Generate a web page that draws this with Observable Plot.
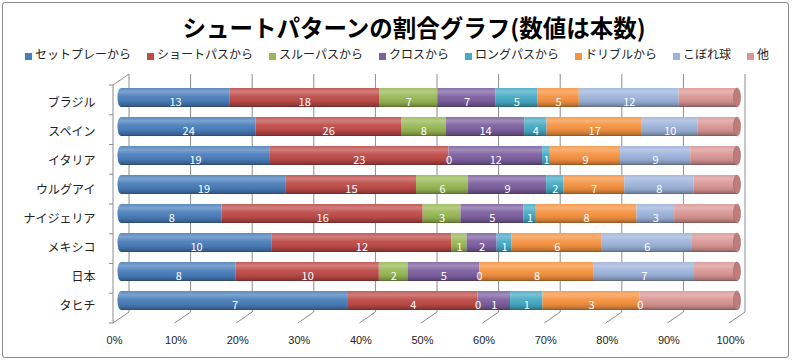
<!DOCTYPE html>
<html><head><meta charset="utf-8">
<script src="https://cdn.jsdelivr.net/npm/d3@7"></script>
<script src="https://cdn.jsdelivr.net/npm/@observablehq/plot@0.6"></script>
<style>
body{margin:0;width:794px;height:362px;position:relative;overflow:hidden;background:#fff;font-family:"Noto Sans CJK JP",sans-serif;}
#border{position:absolute;left:2px;top:2px;width:785px;height:354px;border:1px solid #8a8a8a;border-radius:3px;}
#title{position:absolute;left:0;top:12px;width:794px;padding-left:34px;box-sizing:border-box;text-align:center;font-size:23.5px;font-weight:bold;line-height:30px;color:#000;}
#legend{position:absolute;left:0;top:45px;width:794px;display:flex;justify-content:center;font-size:12px;line-height:18px;color:#222;}
.item{display:flex;align-items:center;margin:0 8px;white-space:nowrap;}
.sw{width:7px;height:7px;margin-right:3px;position:relative;top:2px;}
#chart{position:absolute;left:0;top:70px;}
</style></head>
<body>
<div id="border"></div>
<div id="title">シュートパターンの割合グラフ(数値は本数)</div>
<div id="legend"></div>
<div id="chart"></div>
<script>
const countries = ["ブラジル","スペイン","イタリア","ウルグアイ","ナイジェリア","メキシコ","日本","タヒチ"];
const patterns = ["セットプレーから","ショートパスから","スルーパスから","クロスから","ロングパスから","ドリブルから","こぼれ球","他"];
const colors = ["#4A7EBB","#BE4B48","#98B954","#7D60A0","#46AAC5","#F69240","#9DB3DB","#D99694"];
const setPlay     = [13,24,19,19, 8,10, 8,7];
const shortPass   = [18,26,23,15,16,12,10,4];
const throughPass = [ 7, 8, 0, 6, 3, 1, 2,0];
const cross       = [ 7,14,12, 9, 5, 2, 5,1];
const longPass    = [ 5, 4, 1, 2, 1, 1, 0,1];
const dribble     = [ 5,17, 9, 7, 8, 6, 8,3];
const rebound     = [12,10, 9, 8, 3, 6, 7,0];
const other       = [ 7, 7, 6, 5, 5, 3, 3,3];
const xTicks = [0,0.1,0.2,0.3,0.4,0.5,0.6,0.7,0.8,0.9,1];

const series = [setPlay, shortPass, throughPass, cross, longPass, dribble, rebound, other];
const table = [];
countries.forEach((c, i) => series.forEach((s, j) => table.push({country: c, pattern: patterns[j], value: s[i]})));

// legend
const leg = document.getElementById("legend");
patterns.forEach((p, i) => {
  const it = document.createElement("div"); it.className = "item";
  const sw = document.createElement("span"); sw.className = "sw"; sw.style.background = colors[i];
  const tx = document.createElement("span"); tx.textContent = p;
  it.appendChild(sw); it.appendChild(tx); leg.appendChild(it);
});

const DX = 8, DY = 5.5;

function defs() {
  const d = d3.create("svg:defs");
  const g = d.append("linearGradient").attr("id", "cyl").attr("x1", 0).attr("y1", 0).attr("x2", 0).attr("y2", 1);
  [[0, "#fff", 0.10], [0.2, "#fff", 0.28], [0.45, "#fff", 0.05], [0.75, "#000", 0.08], [0.92, "#000", 0.25], [1, "#000", 0.45]]
    .forEach(([o, c, a]) => g.append("stop").attr("offset", o).attr("stop-color", c).attr("stop-opacity", a));
  return d.node();
}

function frame3d(index, scales, values, dims) {
  const x = scales.x;
  const top = dims.marginTop, bot = dims.height - dims.marginBottom;
  const g = d3.create("svg:g").attr("stroke", "#8c8c8c").attr("fill", "none").attr("stroke-width", 1);
  for (const t of xTicks) {
    g.append("line").attr("x1", x(t) + DX).attr("x2", x(t) + DX).attr("y1", top - DY).attr("y2", bot - DY);
    g.append("line").attr("x1", x(t) - DX).attr("x2", x(t) + DX).attr("y1", bot + DY).attr("y2", bot - DY);
  }
  g.append("line").attr("x1", x(0) - DX).attr("x2", x(0) - DX).attr("y1", top + DY).attr("y2", bot + DY);
  g.append("line").attr("x1", x(0) - DX).attr("x2", x(0) + DX).attr("y1", top + DY).attr("y2", top - DY);
  const step = (bot - top) / countries.length;
  for (let i = 0; i <= countries.length; i++) {
    g.append("line").attr("x1", x(0) - DX - 4).attr("x2", x(0) - DX).attr("y1", top + i * step + DY).attr("y2", top + i * step + DY);
  }
  return g.node();
}

function leftCaps(index, scales) {
  const x = scales.x, y = scales.y, bw = y.bandwidth();
  const g = d3.create("svg:g");
  for (const c of countries) {
    g.append("ellipse").attr("cx", x(0)).attr("cy", y(c) + bw / 2).attr("rx", 3.5).attr("ry", bw / 2).attr("fill", colors[0]);
    g.append("ellipse").attr("cx", x(0)).attr("cy", y(c) + bw / 2).attr("rx", 3.5).attr("ry", bw / 2).attr("fill", "url(#cyl)");
  }
  return g.node();
}

function rightCaps(index, scales) {
  const x = scales.x, y = scales.y, bw = y.bandwidth();
  const g = d3.create("svg:g");
  for (const c of countries) {
    g.append("ellipse").attr("cx", x(1)).attr("cy", y(c) + bw / 2).attr("rx", 3.5).attr("ry", bw / 2)
      .attr("fill", "#BF7C7A").attr("stroke", "#A56664").attr("stroke-width", 0.6);
  }
  return g.node();
}

const plot = Plot.plot({
  width: 794, height: 292,
  marginLeft: 121, marginRight: 57, marginTop: 9.5, marginBottom: 44.5,
  x: {domain: [0, 1]},
  y: {domain: countries, paddingInner: 0.36, paddingOuter: 0.18},
  color: {domain: patterns, range: colors},
  style: {fontFamily: "'Noto Sans CJK JP', sans-serif", fontSize: "12px", color: "#222", background: "transparent"},
  marks: [
    defs,
    frame3d,
    leftCaps,
    Plot.barX(table, Plot.stackX({offset: "normalize", x: "value", y: "country", z: "pattern", fill: "pattern"})),
    Plot.barX(countries, {x1: 0, x2: 1, y: d => d, fill: "url(#cyl)"}),
    rightCaps,
    Plot.text(table, Plot.stackX({offset: "normalize", x: "value", y: "country", z: "pattern",
      text: d => d.pattern === "他" ? "" : String(d.value), fill: "white", dy: 4, fontSize: 11})),
    Plot.axisX(xTicks, {tickSize: 0, tickPadding: 18, dx: -7, tickFormat: d => Math.round(d * 100) + "%",
      fontSize: 11, fontFamily: "'Liberation Sans', sans-serif", fill: "#222", label: null}),
    Plot.axisY({tickSize: 0, tickPadding: 26, dy: 5.5, fontSize: 12, fill: "#222", label: null})
  ]
});
document.getElementById("chart").appendChild(plot);
</script>
</body></html>
